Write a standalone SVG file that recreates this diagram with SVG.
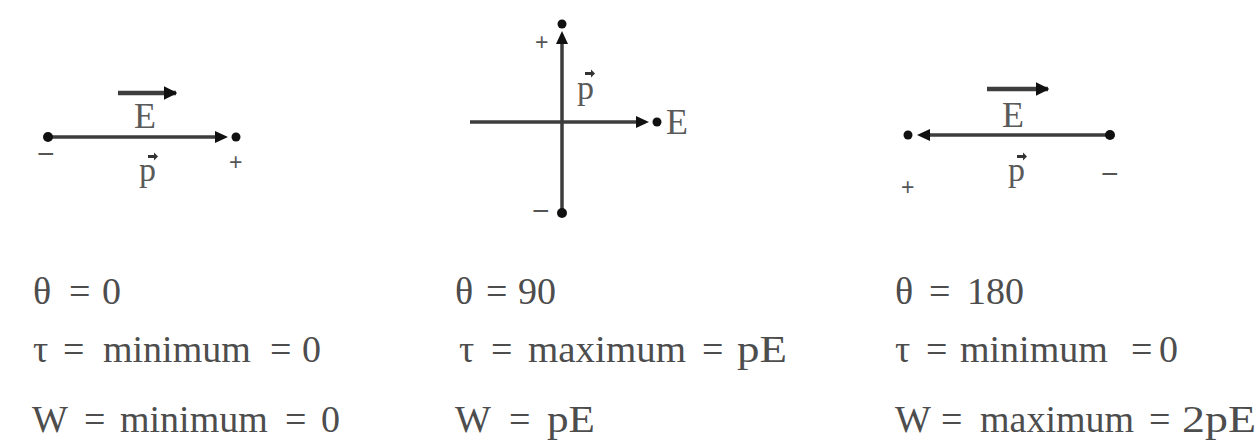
<svg xmlns="http://www.w3.org/2000/svg" width="1259" height="447" viewBox="0 0 1259 447">
<style>
.t{font-family:"Liberation Serif","Times New Roman",serif;font-size:38px;fill:#4d4d4d}
.lbl{font-family:"Liberation Serif","Times New Roman",serif;font-size:36px;fill:#5a5a5a}
.sgn{font-family:"Liberation Sans",Arial,sans-serif;fill:#555}
.ln{stroke:#3d3d3d;stroke-width:3.5;fill:none}
.vl{stroke:#3d3d3d;stroke-width:4.5;fill:none}
.dot{fill:#111}
.head{fill:#111}
.vec{fill:#333}
</style>
<defs>
<marker id="ah" viewBox="0 0 10 10" refX="9" refY="5" markerWidth="3" markerHeight="3" orient="auto" markerUnits="strokeWidth">
<path d="M0,0 L10,5 L0,10 z" fill="#111"/>
</marker>
</defs>
<rect width="1259" height="447" fill="#fff"/>

<g id="connectors">
<line class="ln" x1="48" y1="137" x2="218" y2="137"/>
<line class="vl" x1="118" y1="93" x2="176" y2="93" marker-end="url(#ah)"/>
<line class="ln" x1="470" y1="122" x2="638" y2="122"/>
<line class="ln" x1="562" y1="40" x2="562" y2="213"/>
<line class="ln" x1="930" y1="135" x2="1110" y2="135"/>
<line class="vl" x1="987" y1="89" x2="1048" y2="89" marker-end="url(#ah)"/>
</g>

<g id="panel-theta-0">
<circle class="dot" cx="48" cy="137" r="5"/>
<polygon class="head" points="215,131 228,137 215,143"/>
<circle class="dot" cx="236" cy="137" r="4.5"/>
<text class="lbl" x="134" y="128">E</text>
<text class="lbl" x="139" y="181" style="font-size:34px">p</text>
<path class="vec" d="M148,155 L154,155 L154,152.5 L158,156.5 L154,160.5 L154,158 L148,158 z"/>
<text class="sgn" x="37" y="164" style="font-size:30px">−</text>
<text class="sgn" x="229" y="170" style="font-size:23px">+</text>
<text class="t" y="304"><tspan x="33">θ</tspan><tspan x="69">=</tspan><tspan x="102">0</tspan></text>
<text class="t" y="362"><tspan x="33">τ</tspan><tspan x="63">=</tspan><tspan x="103">minimum</tspan><tspan x="270">=</tspan><tspan x="302">0</tspan></text>
<text class="t" y="432"><tspan x="32">W</tspan><tspan x="84">=</tspan><tspan x="120">minimum</tspan><tspan x="285">=</tspan><tspan x="321">0</tspan></text>
</g>

<g id="panel-theta-90">
<circle class="dot" cx="562" cy="24" r="4.5"/>
<polygon class="head" points="556,44 562,31 568,44"/>
<circle class="dot" cx="562" cy="213" r="5"/>
<polygon class="head" points="636,116 649,122 636,128"/>
<circle class="dot" cx="657" cy="122" r="4.5"/>
<text class="lbl" x="666" y="134">E</text>
<text class="lbl" x="577" y="99" style="font-size:34px">p</text>
<path class="vec" d="M585,72 L591,72 L591,69.5 L595,73.5 L591,77.5 L591,75 L585,75 z"/>
<text class="sgn" x="535" y="50" style="font-size:23px">+</text>
<text class="sgn" x="532" y="221" style="font-size:30px">−</text>
<text class="t" y="304"><tspan x="455">θ</tspan><tspan x="486">=</tspan><tspan x="518">90</tspan></text>
<text class="t" y="362"><tspan x="459">τ</tspan><tspan x="491">=</tspan><tspan x="528" textLength="158" lengthAdjust="spacingAndGlyphs">maximum</tspan><tspan x="702">=</tspan><tspan x="737" textLength="50" lengthAdjust="spacingAndGlyphs">pE</tspan></text>
<text class="t" y="432"><tspan x="455">W</tspan><tspan x="509">=</tspan><tspan x="547" textLength="48" lengthAdjust="spacingAndGlyphs">pE</tspan></text>
</g>

<g id="panel-theta-180">
<circle class="dot" cx="908" cy="135" r="4.5"/>
<polygon class="head" points="930,129 917,135 930,141"/>
<circle class="dot" cx="1110" cy="135" r="5"/>
<text class="lbl" x="1002" y="127">E</text>
<text class="lbl" x="1008" y="181" style="font-size:34px">p</text>
<path class="vec" d="M1017,155 L1023,155 L1023,152.5 L1027,156.5 L1023,160.5 L1023,158 L1017,158 z"/>
<text class="sgn" x="901" y="195" style="font-size:23px">+</text>
<text class="sgn" x="1101" y="184" style="font-size:30px">−</text>
<text class="t" y="304"><tspan x="895">θ</tspan><tspan x="929">=</tspan><tspan x="967">180</tspan></text>
<text class="t" y="362"><tspan x="895">τ</tspan><tspan x="926">=</tspan><tspan x="960">minimum</tspan><tspan x="1131">=</tspan><tspan x="1159">0</tspan></text>
<text class="t" y="432"><tspan x="895">W</tspan><tspan x="941">=</tspan><tspan x="980">maximum</tspan><tspan x="1149">=</tspan><tspan x="1182" textLength="74" lengthAdjust="spacingAndGlyphs">2pE</tspan></text>
</g>
</svg>
